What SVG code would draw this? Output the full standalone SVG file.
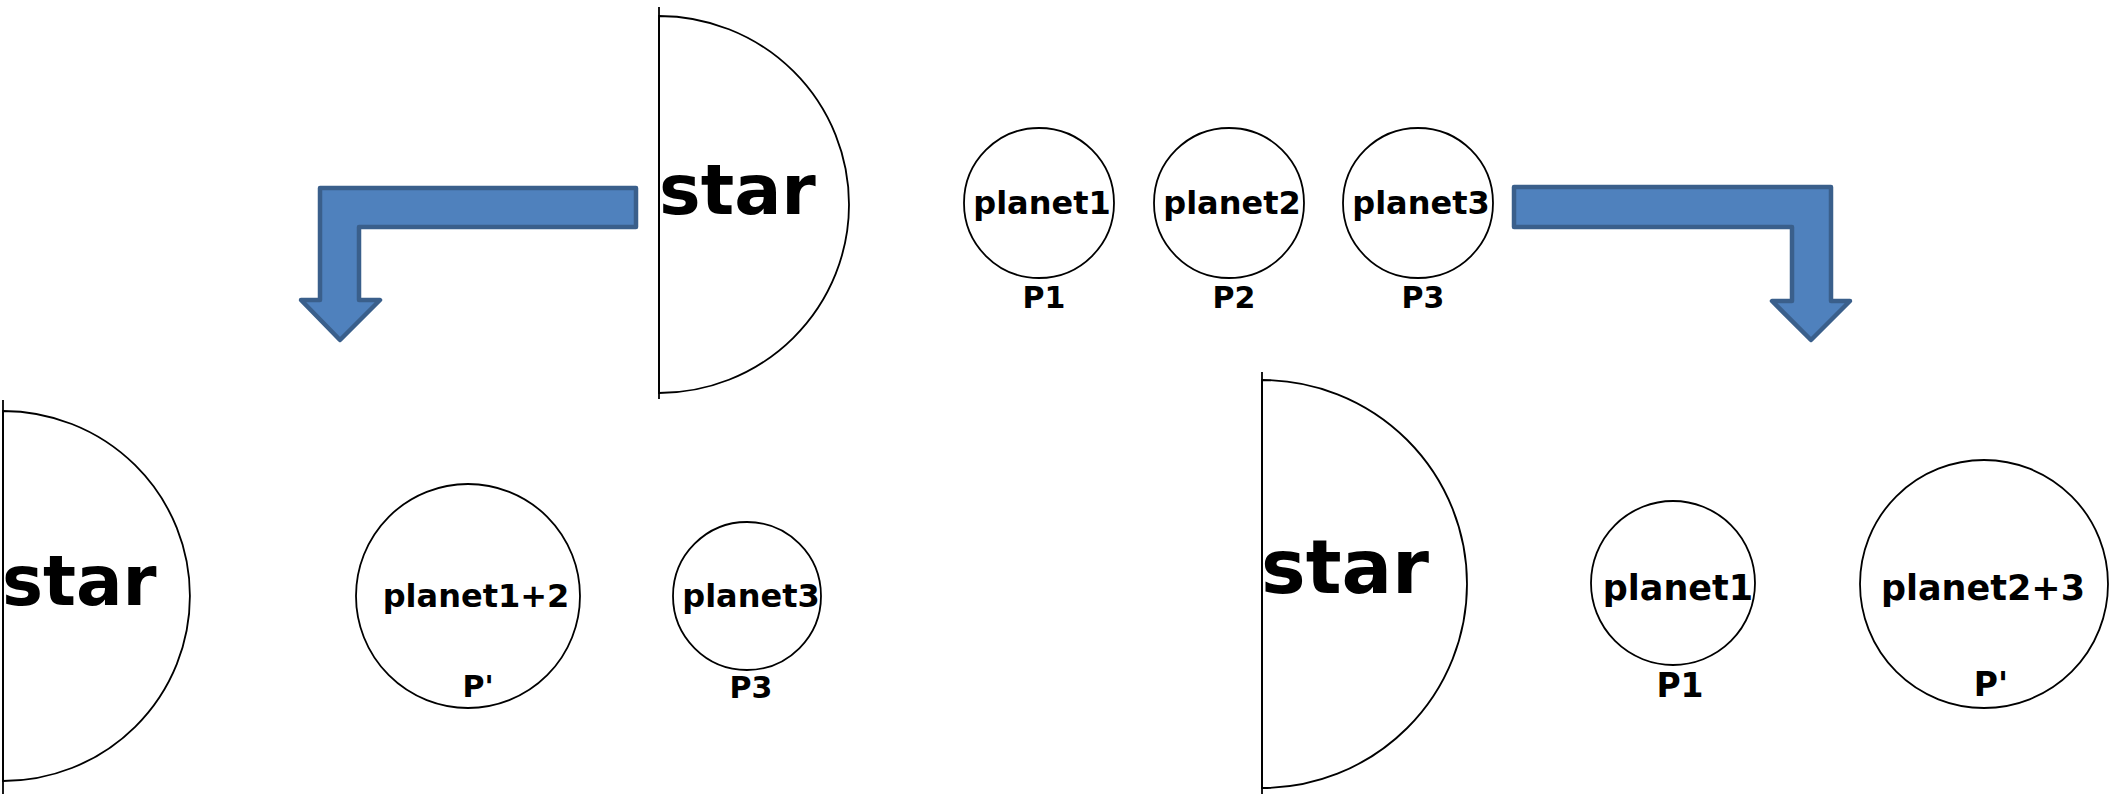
<svg xmlns="http://www.w3.org/2000/svg" width="2109" height="794" viewBox="0 0 2109 794">
<style>
.shape{fill:#fff;stroke:#000;stroke-width:1.8}
.line{stroke:#000;stroke-width:1.8;fill:none}
.arrow{fill:#4F81BD;stroke:#3A5F8B;stroke-width:4.5;stroke-linejoin:round}
text{font-family:"DejaVu Sans","Liberation Sans",sans-serif;font-weight:bold;fill:#000}
.c{text-anchor:middle}
</style>
<rect width="2109" height="794" fill="#fff"/>
<g id="connectors">
<path class="arrow" d="M636,188 L320,188 L320,300 L301,300 L340,340 L380,300 L359,300 L359,227 L636,227 Z"/>
<path class="arrow" d="M1514,187 L1831,187 L1831,301 L1850,301 L1811,340 L1772,301 L1792,301 L1792,227 L1514,227 Z"/>
</g>
<g id="star-top">
<path class="shape" d="M659,16 A190,188.5 0 0 1 659,393 Z"/>
<line class="line" x1="659" y1="7" x2="659" y2="399"/>
<text x="659" y="214" font-size="70">star</text>
</g>
<g id="planet1-top">
<circle class="shape" cx="1039" cy="203" r="75"/>
<text class="c" x="1042" y="214" font-size="32">planet1</text>
<text class="c" x="1044" y="308" font-size="30">P1</text>
</g>
<g id="planet2-top">
<circle class="shape" cx="1229" cy="203" r="75"/>
<text class="c" x="1232" y="214" font-size="32">planet2</text>
<text class="c" x="1234" y="308" font-size="30">P2</text>
</g>
<g id="planet3-top">
<circle class="shape" cx="1418" cy="203" r="75"/>
<text class="c" x="1421" y="214" font-size="32">planet3</text>
<text class="c" x="1423" y="308" font-size="30">P3</text>
</g>
<g id="star-left">
<path class="shape" d="M3,411 A187,185 0 0 1 3,781 Z"/>
<line class="line" x1="3" y1="400" x2="3" y2="794"/>
<text x="2" y="605" font-size="69">star</text>
</g>
<g id="planet12-left">
<circle class="shape" cx="468" cy="596" r="112"/>
<text class="c" x="476" y="607" font-size="32">planet1+2</text>
<text class="c" x="478" y="697" font-size="30">P'</text>
</g>
<g id="planet3-left">
<circle class="shape" cx="747" cy="596" r="74"/>
<text class="c" x="751" y="607" font-size="32">planet3</text>
<text class="c" x="751" y="698" font-size="30">P3</text>
</g>
<g id="star-right">
<path class="shape" d="M1262,380 A205,204 0 0 1 1262,788 Z"/>
<line class="line" x1="1262" y1="372" x2="1262" y2="794"/>
<text x="1261" y="593" font-size="75">star</text>
</g>
<g id="planet1-right">
<circle class="shape" cx="1673" cy="583" r="82"/>
<text class="c" x="1678" y="600" font-size="35">planet1</text>
<text class="c" x="1680" y="697" font-size="33">P1</text>
</g>
<g id="planet23-right">
<circle class="shape" cx="1984" cy="584" r="124"/>
<text class="c" x="1983" y="600" font-size="35">planet2+3</text>
<text class="c" x="1991" y="696" font-size="33">P'</text>
</g>
</svg>
